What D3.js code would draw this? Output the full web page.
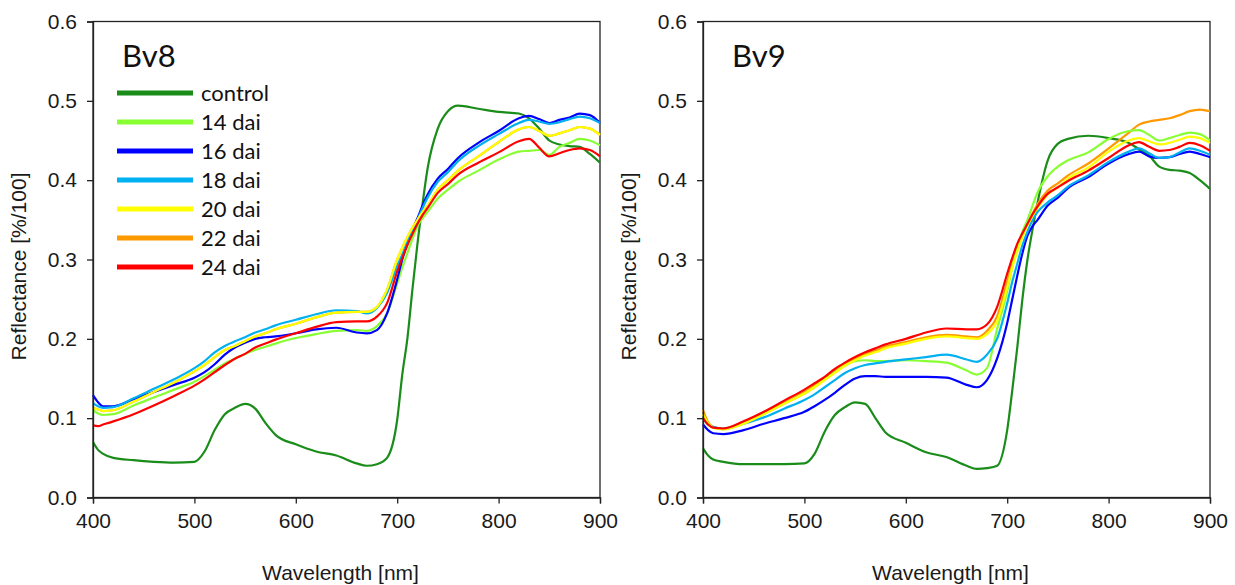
<!DOCTYPE html>
<html><head><meta charset="utf-8">
<script src="https://cdn.jsdelivr.net/npm/d3@7"></script>
<style>body{margin:0;background:#fff}svg{display:block}</style>
</head><body><svg id="chart" width="1235" height="585"></svg>
<script>
const wavelengths = [400,405,410,420,440,460,480,500,510,520,530,540,550,560,570,580,600,620,640,660,670,680,690,700,705,710,715,720,725,730,740,750,760,780,800,820,830,840,850,860,870,880,890,900];
const seriesNames = ["control","14 dai","16 dai","18 dai","20 dai","22 dai","24 dai"];
const seriesColors = ["#1a8c1a","#88ff33","#0000ff","#00b0f0","#ffff00","#ff9900","#ff0000"];
const xTicks = [400,500,600,700,800,900];
const yTicks = [0,0.1,0.2,0.3,0.4,0.5,0.6];
const panelTitles = ["Bv8","Bv9"];

const bv8Control = [0.070,0.060,0.055,0.050,0.047,0.045,0.044,0.045,0.058,0.085,0.105,0.113,0.118,0.112,0.094,0.079,0.067,0.058,0.053,0.043,0.040,0.042,0.050,0.098,0.155,0.200,0.262,0.320,0.370,0.415,0.465,0.487,0.494,0.490,0.486,0.484,0.478,0.465,0.450,0.445,0.443,0.442,0.433,0.422];
const bv8Dai14 = [0.110,0.106,0.104,0.105,0.116,0.126,0.136,0.146,0.153,0.161,0.169,0.175,0.181,0.186,0.190,0.194,0.201,0.206,0.210,0.211,0.210,0.216,0.232,0.270,0.290,0.308,0.326,0.342,0.352,0.360,0.377,0.388,0.398,0.412,0.426,0.436,0.437,0.438,0.432,0.442,0.447,0.452,0.450,0.444];
const bv8Dai16 = [0.129,0.120,0.115,0.115,0.124,0.133,0.142,0.151,0.158,0.168,0.180,0.189,0.195,0.200,0.202,0.203,0.207,0.212,0.214,0.208,0.207,0.211,0.232,0.275,0.300,0.320,0.337,0.352,0.368,0.382,0.402,0.414,0.428,0.447,0.462,0.478,0.481,0.477,0.472,0.476,0.479,0.484,0.482,0.472];
const bv8Dai18 = [0.119,0.115,0.113,0.114,0.125,0.137,0.149,0.163,0.172,0.183,0.191,0.197,0.202,0.208,0.212,0.217,0.224,0.231,0.236,0.235,0.232,0.239,0.258,0.292,0.306,0.322,0.337,0.350,0.365,0.378,0.398,0.410,0.424,0.443,0.458,0.472,0.476,0.474,0.471,0.473,0.477,0.480,0.478,0.472];
const bv8Dai20 = [0.113,0.111,0.109,0.110,0.121,0.133,0.145,0.159,0.167,0.177,0.186,0.191,0.197,0.203,0.207,0.212,0.219,0.227,0.233,0.234,0.234,0.240,0.262,0.300,0.315,0.328,0.340,0.350,0.360,0.368,0.388,0.400,0.412,0.430,0.448,0.464,0.467,0.462,0.456,0.459,0.463,0.467,0.465,0.457];
const bv8Dai22 = [0.113,0.111,0.109,0.110,0.121,0.133,0.145,0.159,0.167,0.177,0.186,0.191,0.197,0.203,0.207,0.212,0.219,0.227,0.233,0.234,0.234,0.240,0.262,0.300,0.315,0.328,0.340,0.350,0.360,0.368,0.388,0.400,0.412,0.430,0.448,0.464,0.467,0.462,0.456,0.459,0.463,0.467,0.465,0.457];
const bv8Dai24 = [0.091,0.090,0.092,0.096,0.105,0.116,0.128,0.141,0.149,0.158,0.167,0.175,0.181,0.189,0.194,0.199,0.207,0.215,0.221,0.222,0.222,0.228,0.245,0.285,0.302,0.318,0.332,0.345,0.356,0.365,0.384,0.395,0.407,0.422,0.435,0.449,0.452,0.441,0.430,0.434,0.438,0.440,0.438,0.430];

const bv9Control = [0.062,0.053,0.048,0.045,0.042,0.042,0.042,0.043,0.055,0.083,0.104,0.114,0.120,0.118,0.100,0.082,0.069,0.057,0.051,0.040,0.036,0.037,0.040,0.085,0.135,0.190,0.250,0.300,0.338,0.372,0.425,0.446,0.452,0.456,0.453,0.447,0.439,0.431,0.417,0.413,0.412,0.409,0.400,0.389];
const bv9Dai14 = [0.100,0.092,0.088,0.086,0.094,0.105,0.118,0.131,0.139,0.149,0.158,0.166,0.172,0.173,0.172,0.172,0.173,0.172,0.170,0.160,0.155,0.163,0.212,0.260,0.290,0.315,0.335,0.350,0.368,0.385,0.405,0.417,0.425,0.435,0.452,0.462,0.463,0.457,0.450,0.453,0.457,0.460,0.458,0.450];
const bv9Dai16 = [0.092,0.085,0.081,0.080,0.085,0.093,0.100,0.108,0.115,0.123,0.132,0.142,0.150,0.153,0.153,0.152,0.152,0.152,0.151,0.142,0.139,0.148,0.175,0.220,0.250,0.280,0.308,0.330,0.342,0.350,0.368,0.378,0.390,0.404,0.421,0.433,0.436,0.430,0.428,0.429,0.433,0.436,0.433,0.429];
const bv9Dai18 = [0.100,0.092,0.089,0.087,0.093,0.101,0.112,0.123,0.130,0.139,0.148,0.157,0.163,0.167,0.169,0.171,0.174,0.177,0.180,0.174,0.171,0.180,0.200,0.245,0.272,0.295,0.318,0.335,0.350,0.360,0.372,0.381,0.392,0.406,0.423,0.436,0.440,0.434,0.428,0.429,0.435,0.440,0.437,0.432];
const bv9Dai20 = [0.105,0.094,0.088,0.086,0.093,0.105,0.118,0.131,0.139,0.148,0.157,0.166,0.173,0.179,0.183,0.188,0.194,0.200,0.203,0.201,0.200,0.206,0.222,0.265,0.290,0.310,0.328,0.343,0.355,0.365,0.382,0.391,0.402,0.416,0.436,0.450,0.453,0.449,0.445,0.447,0.451,0.455,0.453,0.447];
const bv9Dai22 = [0.110,0.095,0.089,0.086,0.094,0.106,0.119,0.133,0.141,0.150,0.159,0.168,0.175,0.181,0.185,0.190,0.196,0.202,0.205,0.203,0.202,0.210,0.228,0.272,0.295,0.315,0.331,0.345,0.358,0.370,0.387,0.396,0.406,0.421,0.440,0.460,0.470,0.474,0.476,0.478,0.482,0.487,0.489,0.487];
const bv9Dai24 = [0.100,0.092,0.088,0.087,0.096,0.108,0.122,0.136,0.144,0.152,0.162,0.170,0.177,0.183,0.188,0.193,0.200,0.208,0.213,0.212,0.212,0.218,0.240,0.282,0.302,0.320,0.333,0.345,0.357,0.367,0.383,0.391,0.399,0.412,0.428,0.444,0.448,0.442,0.437,0.438,0.442,0.447,0.444,0.437];

const panels = [
  {title: panelTitles[0], series: [bv8Control,bv8Dai14,bv8Dai16,bv8Dai18,bv8Dai20,bv8Dai22,bv8Dai24], left: 93, legend: true},
  {title: panelTitles[1], series: [bv9Control,bv9Dai14,bv9Dai16,bv9Dai18,bv9Dai20,bv9Dai22,bv9Dai24], left: 703, legend: false}
];
const drawOrder = [0,5,1,2,3,4,6];

const svg = d3.select("#chart");
const plotW = 507, plotTop = 21.5, plotBottom = 497.5;
const tickFont = "'Liberation Sans', Arial, sans-serif";
const calFont = "Lato, 'Open Sans', sans-serif";

panels.forEach(p => {
  const x = d3.scaleLinear().domain([400,900]).range([p.left, p.left + plotW]);
  const y = d3.scaleLinear().domain([0,0.6]).range([plotBottom, plotTop]);
  const g = svg.append("g");

  g.append("rect").attr("x", p.left).attr("y", plotTop).attr("width", plotW).attr("height", plotBottom - plotTop)
    .attr("fill", "none").attr("stroke", "#222").attr("stroke-width", 1.3);

  const lineGen = d3.line().x((d,i) => x(wavelengths[i])).y(d => y(d)).curve(d3.curveMonotoneX);
  drawOrder.forEach(k => {
    g.append("path").datum(p.series[k]).attr("d", lineGen)
      .attr("fill", "none").attr("stroke", seriesColors[k]).attr("stroke-width", 2.2)
      .attr("stroke-linejoin", "round");
  });

  const xa = g.append("g").attr("transform", `translate(0,${plotBottom})`)
    .call(d3.axisBottom(x).tickValues(xTicks).tickSize(6).tickPadding(10).tickFormat(d3.format("d")));
  const ya = g.append("g").attr("transform", `translate(${p.left},0)`)
    .call(d3.axisLeft(y).tickValues(yTicks).tickSize(6).tickPadding(10).tickFormat(d3.format(".1f")));
  [xa, ya].forEach(a => {
    a.select(".domain").attr("stroke", "#222").attr("stroke-width", 1.3);
    a.selectAll(".tick line").attr("stroke", "#222").attr("stroke-width", 1.3);
    a.selectAll("text").attr("font-family", tickFont).attr("font-size", 21).attr("fill", "#1a1a1a");
  });

  g.append("text").attr("x", p.left + plotW/2 - 6).attr("y", 580)
    .attr("text-anchor", "middle").attr("font-family", tickFont).attr("font-size", 21).attr("fill", "#1a1a1a")
    .text("Wavelength [nm]");
  g.append("text").attr("transform", `translate(${p.left - 67},${(plotTop+plotBottom)/2 + 7}) rotate(-90)`)
    .attr("text-anchor", "middle").attr("font-family", tickFont).attr("font-size", 21).attr("fill", "#1a1a1a")
    .text("Reflectance [%/100]");

  g.append("text").attr("x", p.left + 29).attr("y", 67)
    .attr("font-family", calFont).attr("font-size", 31).attr("fill", "#111").text(p.title);

  if (p.legend) {
    const ly = d3.scalePoint().domain(seriesNames).range([93, 267]);
    seriesNames.forEach((n, k) => {
      g.append("line").attr("x1", p.left + 24).attr("x2", p.left + 100)
        .attr("y1", ly(n)).attr("y2", ly(n))
        .attr("stroke", seriesColors[k]).attr("stroke-width", 5);
      g.append("text").attr("x", p.left + 108).attr("y", ly(n)).attr("dy", "0.35em")
        .attr("font-family", calFont).attr("font-size", 22).attr("fill", "#111").text(n);
    });
  }
});
</script></body></html>
